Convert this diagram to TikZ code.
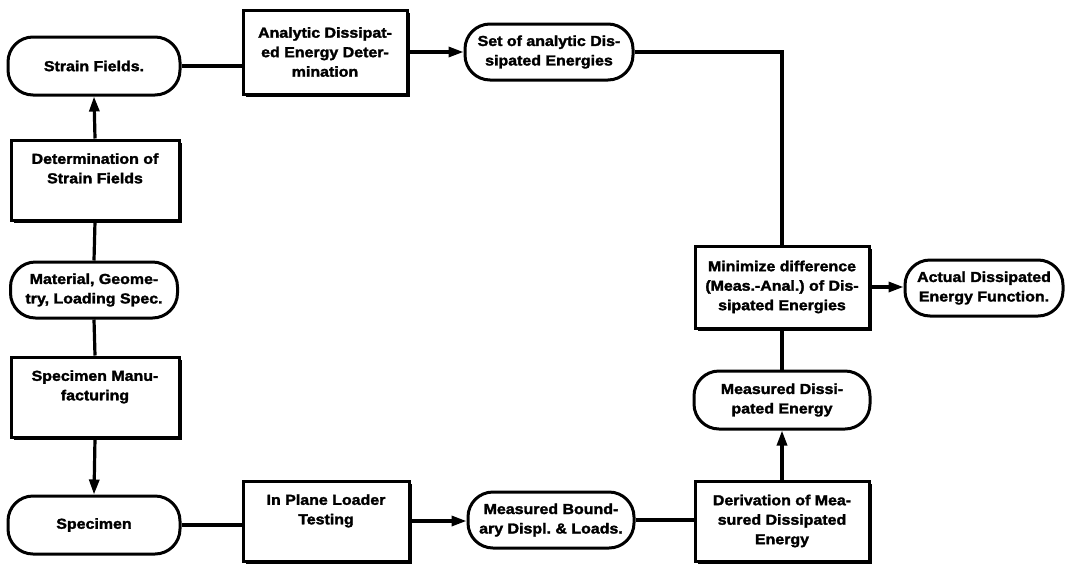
\documentclass[tikz,border=0pt]{standalone}
\usepackage{fontspec}
\setmainfont{Liberation Sans}
\newfontfamily\heavyfont{Liberation Sans Bold}[FakeBold=2, FakeStretch=1.1]
\usetikzlibrary{arrows.meta,shadows}
\frenchspacing
\begin{document}
\begin{tikzpicture}[x=1pt,y=-1pt,
  every node/.style={font=\heavyfont\fontsize{14.5}{19.5}\selectfont, align=center, inner sep=1pt},
  rbox/.style={draw, line width=3pt, rounded corners=25pt, minimum width=#1},
  sbox/.style={draw, line width=3pt, fill=white, minimum width=#1,
     drop shadow={shadow xshift=2.5pt, shadow yshift=-2.5pt, fill=black, opacity=1}},
  conn/.style={line width=3.2pt},
  arr/.style={line width=3.2pt, -{Triangle[length=15pt,width=10pt]}}
]
\useasboundingbox (0,0) rectangle (1067,563);
% left column
\node[rbox=172, minimum height=58] (sf) at (94,66) {Strain Fields.};
\node[sbox=168, minimum height=80] (dsf) at (95,180) {Determination of\\Strain Fields\\[-2pt]\strut};
\node[rbox=167, minimum height=56] (mat) at (94,290) {Material, Geome-\\try, Loading Spec.};
\node[sbox=168, minimum height=80] (smf) at (95,397) {Specimen Manu-\\facturing\\[-2pt]\strut};
\node[rbox=172, minimum height=58] (spc) at (94,525) {Specimen};
% top row
\node[sbox=164, minimum height=84] (ade) at (325,52) {Analytic Dissipat-\\ed Energy Deter-\\mination};
\node[rbox=168, minimum height=56] (sad) at (549,52) {Set of analytic Dis-\\sipated Energies};
% bottom row
\node[sbox=166, minimum height=80] (ipl) at (326,521) {In Plane Loader\\Testing\\[-2pt]\strut};
\node[rbox=166, minimum height=56] (mbd) at (551,520) {Measured Bound-\\ary Displ. \& Loads.};
\node[sbox=174, minimum height=80] (der) at (782,521) {Derivation of Mea-\\sured Dissipated\\Energy};
% right column
\node[rbox=176, minimum height=58] (mde) at (782,400) {Measured Dissi-\\pated Energy};
\node[sbox=174, minimum height=82] (min) at (782,287) {Minimize difference\\(Meas.-Anal.) of Dis-\\sipated Energies};
\node[rbox=158, minimum height=56] (act) at (984,288) {Actual Dissipated\\Energy Function.};
% connectors
\draw[arr] (dsf.north) -- (sf.south);
\draw[conn] (dsf.south) -- (mat.north);
\draw[conn] (mat.south) -- (smf.north);
\draw[arr] (smf.south) -- (spc.north);
\draw[conn] (spc.east) -- (spc.east -| ipl.west);
\draw[arr] (ipl.east) -- (ipl.east -| mbd.west);
\draw[conn] (mbd.east) -- (mbd.east -| der.west);
\draw[arr] (der.north) -- (mde.south);
\draw[conn] (mde.north) -- (min.south);
\draw[arr] (min.east) -- (min.east -| act.west);
\draw[conn] (sf.east) -- (sf.east -| ade.west);
\draw[arr] (ade.east) -- (ade.east -| sad.west);
\draw[conn] (sad.east) -| (min.north);
\end{tikzpicture}
\end{document}
